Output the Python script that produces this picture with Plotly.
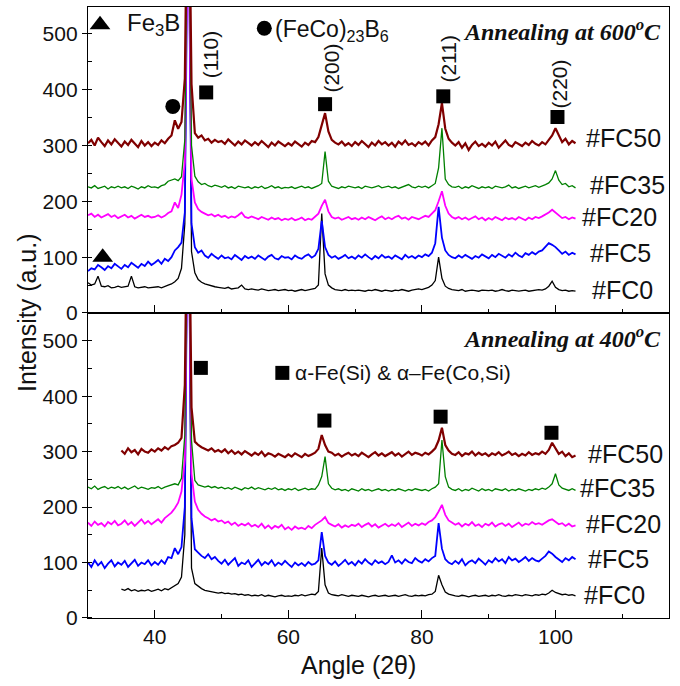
import plotly.graph_objects as go

# 2-theta sampling grid (degrees), 30 .. 103 in 0.5 steps
ANGLE = [30 + 0.5 * i for i in range(147)]

# ---------------- Annealing at 600 C (top panel) ----------------
T600_FC0 = [54, 50, 52, 66, 48, 47, 49, 45, 46, 48,
            46, 47, 48, 66, 47, 45, 46, 47, 45, 46,
            46, 47, 45, 48, 50, 52, 56, 62, 80, 160,
            900, 110, 72, 60, 55, 52, 50, 48, 47, 46,
            45, 44, 46, 43, 44, 45, 50, 43, 42, 43,
            42, 41, 43, 42, 40, 41, 42, 40, 41, 42,
            40, 41, 39, 40, 42, 40, 41, 42, 44, 50,
            178, 70, 50, 45, 42, 41, 40, 42, 40, 41,
            40, 41, 40, 39, 41, 40, 42, 40, 39, 41,
            40, 39, 41, 40, 42, 40, 39, 41, 42, 43,
            42, 44, 46, 50, 58, 100, 62, 48, 44, 42,
            41, 40, 42, 39, 40, 41, 40, 39, 41, 40,
            40, 41, 39, 40, 42, 40, 39, 41, 40, 39,
            40, 41, 39, 40, 41, 42, 41, 43, 48, 57,
            46, 42, 40, 41, 39, 40, 39]
T600_FC5 = [75, 80, 78, 86, 82, 77, 84, 80, 88, 83,
            79, 86, 82, 90, 85, 81, 88, 84, 92, 86,
            90, 95, 88, 97, 93, 100, 112, 118, 126, 180,
            800, 160, 118, 108, 112, 103, 99, 106, 101, 97,
            103, 98, 100, 96, 104, 99, 95, 102, 98, 101,
            97, 103, 99, 95, 101, 104, 98, 96, 102, 99,
            100, 96, 103, 99, 97, 102, 105, 99, 103, 115,
            165, 118, 104, 99, 102, 97, 100, 104, 98, 101,
            97, 103, 99, 105, 100, 96, 102, 98, 104, 99,
            101, 97, 103, 100, 96, 104, 99, 102, 98, 103,
            100, 105, 102, 108, 125, 190, 135, 112, 104, 100,
            98, 103, 99, 104, 100, 97, 102, 99, 105, 101,
            98, 104, 100, 106, 102, 99, 105, 101, 108, 103,
            100, 107, 104, 109, 105, 110, 112, 118, 125, 122,
            118, 112, 106, 110, 104, 108, 105]
T600_FC20 = [175, 178, 172, 176, 171, 174, 177, 172, 175, 170,
             173, 176, 171, 174, 169, 173, 176, 172, 174, 171,
             172, 175, 171, 174, 179, 182, 198, 188, 212, 270,
             760, 240, 198, 186, 181, 178, 175, 177, 173, 176,
             172, 174, 170, 173, 171, 175, 180, 172, 170, 173,
             171, 168, 172, 169, 167, 171, 168, 170, 166, 169,
             167, 170, 166, 168, 171, 166, 169, 167, 172, 178,
             192, 203, 182, 172, 169, 171, 167, 170, 172, 168,
             170, 167, 171, 168, 172, 169, 166, 170, 173, 168,
             171, 168, 172, 174, 169, 171, 167, 172, 170, 168,
             171, 174, 172, 178, 184, 200, 218, 192, 178, 172,
             169, 172, 168, 171, 167, 170, 173, 168, 171, 166,
             170, 167, 172, 169, 166, 171, 168, 170, 167, 172,
             169, 166, 171, 168, 172, 170, 173, 176, 180, 185,
             180, 174, 170, 172, 168, 171, 169]
T600_FC35 = [226, 224, 228, 223, 225, 227, 222, 226, 224, 227,
             224, 226, 223, 227, 225, 222, 226, 224, 228, 225,
             226, 224, 228, 230, 236, 238, 240, 237, 244, 310,
             820, 300, 245, 235, 230, 232, 228, 226, 229, 227,
             225, 228, 224, 226, 223, 227, 225, 224, 226, 223,
             226, 224, 227, 223, 225, 228, 224, 226, 223, 225,
             224, 226, 223, 225, 227, 224, 226, 223, 225, 228,
             232, 289, 236, 227, 225, 223, 226, 224, 227, 225,
             224, 226, 223, 227, 225, 224, 226, 228, 224, 225,
             227, 224, 226, 223, 225, 228, 230, 226, 224, 227,
             225, 227, 224, 228, 232, 260, 331, 240, 230, 226,
             225, 227, 223, 226, 224, 228, 225, 223, 226, 224,
             226, 223, 227, 225, 224, 226, 229, 224, 226, 223,
             225, 227, 224, 226, 228, 225, 227, 230, 233, 240,
             255, 238, 230, 232, 226, 228, 224]
T600_FC50 = [304, 310, 300, 314, 306, 299, 309, 302, 311, 304,
             298, 307, 301, 310, 303, 297, 308, 300, 306, 299,
             305, 301, 309, 304, 312, 318, 345, 330, 342, 420,
             900, 410, 322, 314, 318, 309, 312, 305, 310, 306,
             308, 303, 311, 305, 300, 307, 302, 309, 304, 300,
             306, 301, 308, 302, 297, 305, 300, 307, 303, 299,
             304, 300, 307, 302, 298, 305, 301, 308, 306, 315,
             335, 358, 325, 310, 305, 302, 307, 300, 304, 299,
             306, 301, 308, 303, 297, 305, 300, 308, 302, 306,
             300, 305, 298, 307, 302, 309, 301, 304, 299, 306,
             302, 307, 300, 309, 315, 338, 376, 330, 312, 305,
             300, 306, 296, 304, 292, 301, 307, 299, 303, 298,
             305, 300, 307, 296, 303, 309, 301, 298, 306, 302,
             299, 305, 301, 308, 303, 300, 306, 302, 310, 318,
             331, 318, 306, 312, 302, 308, 304]

# ---------------- Annealing at 400 C (bottom panel) ----------------
N = None
T400_FC0 = [N, N, N, N, N, N, N, N, N, N,
            52, 50, 53, 49, 51, 48, 50, 49, 51, 48,
            50, 52, 49, 53, 51, 55, 58, 62, 74, 150,
            900, 90, 62, 57, 53, 50, 49, 47, 46, 45,
            46, 44, 45, 43, 44, 42, 43, 41, 42, 40,
            41, 40, 42, 39, 41, 40, 38, 40, 41, 39,
            40, 39, 41, 40, 42, 40, 41, 43, 42, 48,
            126, 60, 45, 42, 41, 40, 42, 40, 39, 41,
            40, 39, 41, 40, 38, 40, 41, 39, 40, 41,
            39, 40, 41, 39, 40, 42, 40, 39, 41, 40,
            41, 40, 42, 43, 48, 77, 60, 47, 43, 41,
            40, 39, 41, 40, 38, 40, 41, 39, 40, 41,
            39, 41, 40, 42, 40, 39, 41, 40, 42, 41,
            40, 42, 41, 40, 42, 41, 43, 42, 45, 50,
            46, 44, 42, 43, 41, 42, 40]
T400_FC5 = [100, 92, 104, 95, 101, 90, 98, 104, 93, 100,
            96, 103, 92, 99, 105, 94, 100, 97, 104, 95,
            101, 96, 104, 98, 110, 108, 126, 115, 128, 200,
            850, 180, 124, 118, 112, 108, 115, 106, 110, 103,
            98, 105, 96, 102, 108, 94, 100, 97, 104, 92,
            99, 105, 95, 101, 97, 104, 94, 100, 96, 103,
            97, 92, 100, 95, 99, 94, 101, 96, 98, 104,
            155, 112, 100, 96, 102, 94, 99, 105, 97, 101,
            95, 103, 98, 106, 100, 96, 104, 99, 102, 97,
            101, 113, 100, 104, 98, 106, 101, 99, 108, 103,
            100, 106, 102, 108, 112, 171, 125, 106, 100, 97,
            103, 98, 106, 95, 101, 104, 99, 107, 102, 96,
            104, 100, 108, 102, 106, 99, 110, 104, 107, 101,
            105, 110, 103, 108, 104, 102, 107, 112, 120, 116,
            110, 106, 101, 108, 104, 110, 106]
T400_FC20 = [172, 166, 174, 168, 171, 165, 173, 169, 175, 167,
             170, 176, 168, 173, 166, 172, 178, 170, 175, 169,
             174, 178, 172, 180, 185, 190, 198, 208, 228, 285,
             800, 260, 210, 195, 188, 183, 180, 176, 179, 174,
             176, 171, 174, 168, 172, 166, 170, 167, 171, 165,
             168, 164, 170, 162, 167, 161, 166, 163, 168, 160,
             164, 159, 165, 161, 163, 160, 166, 162, 168, 172,
             176, 182, 171, 168, 165, 169, 163, 167, 164, 168,
             166, 170, 164, 168, 171, 165, 169, 163, 167, 170,
             165, 169, 166, 171, 164, 168, 172, 166, 170, 167,
             171, 168, 173, 176, 182, 192, 204, 186, 176, 172,
             168, 171, 165, 170, 167, 173, 166, 169, 164, 170,
             167, 172, 165, 169, 171, 166, 170, 164, 168, 172,
             166, 170, 168, 173, 169, 171, 168, 172, 176, 178,
             173, 169, 171, 166, 170, 165, 167]
T400_FC35 = [236, 233, 238, 232, 235, 237, 233, 236, 234, 237,
             233, 236, 232, 235, 238, 233, 236, 234, 232, 235,
             234, 237, 233, 236, 238, 240, 242, 240, 252, 330,
             820, 320, 248, 240, 238, 236, 238, 235, 237, 234,
             236, 233, 235, 232, 236, 234, 231, 235, 233, 236,
             232, 235, 233, 231, 234, 232, 235, 231, 233, 230,
             233, 231, 234, 230, 232, 234, 231, 233, 232, 240,
             255, 291, 242, 234, 231, 233, 230, 232, 229, 233,
             231, 229, 233, 230, 232, 229, 231, 233, 230, 232,
             229, 232, 230, 233, 231, 229, 232, 230, 233, 231,
             230, 232, 229, 233, 236, 242, 321, 255, 236, 232,
             230, 233, 229, 232, 230, 234, 231, 229, 233, 230,
             232, 229, 233, 231, 230, 233, 229, 232, 230, 233,
             231, 229, 232, 230, 233, 231, 234, 232, 236, 242,
             260, 240, 234, 232, 230, 233, 230]
T400_FC50 = [N, N, N, N, N, N, N, N, N, N,
             302, 296, 306, 299, 303, 295, 305, 300, 298, 304,
             300, 306, 302, 308, 304, 310, 312, 316, 325, 420,
             900, 380, 318, 312, 308, 305, 302, 306, 300, 303,
             299, 304, 297, 302, 296, 300, 295, 301, 297, 293,
             298, 294, 300, 292, 297, 295, 291, 296, 293, 290,
             295, 291, 297, 293, 290, 296, 292, 295, 298, 305,
             330, 312, 300, 298, 293, 296, 291, 295, 298, 293,
             296, 292, 298, 294, 290, 295, 299, 293, 297, 292,
             295, 299, 293, 297, 291, 296, 300, 294, 298, 296,
             293, 298, 295, 300, 306, 320, 343, 312, 302, 296,
             294, 299, 292, 297, 295, 300, 293, 298, 294, 297,
             292, 297, 294, 299, 293, 296, 300, 294, 297, 292,
             296, 293, 299, 294, 297, 295, 300, 296, 303, 316,
             305, 296, 300, 292, 297, 290, 293]

SAMPLES = ["#FC0", "#FC5", "#FC20", "#FC35", "#FC50"]
COLORS = ["#000000", "#0000ff", "#ff00ff", "#008000", "#800000"]
WIDTHS = [1.3, 1.8, 1.8, 1.3, 2.2]
TOP = [T600_FC0, T600_FC5, T600_FC20, T600_FC35, T600_FC50]
BOTTOM = [T400_FC0, T400_FC5, T400_FC20, T400_FC35, T400_FC50]

# sample label positions (x, y) in data units
TOP_LABEL_X = [105.1, 104.8, 103.6, 104.8, 104.3]
TOP_LABEL_Y = [41, 108, 172, 229, 314]
BOT_LABEL_X = [103.9, 104.6, 104.3, 103.4, 104.5]
BOT_LABEL_Y = [41, 106, 169, 234, 296]

# phase markers
SQ_TOP_X = [47.7, 65.5, 83.2, 100.3]
SQ_TOP_Y = [395, 374, 388, 351]
HKL = ["(110)", "(200)", "(211)", "(220)"]
HKL_X = [48.3, 66.5, 84.0, 100.6]
HKL_Y = [462, 439, 455, 410]
TRI_X = [31.8, 32.2]
TRI_Y = [516, 100]
CIRC_X = [42.7, 56.4]
CIRC_Y = [370, 510]
SQ_BOT_X = [46.9, 59.1, 65.4, 82.8, 99.4]
SQ_BOT_Y = [451, 442, 356, 363, 334]

FONT = "Liberation Sans, Arial, sans-serif"
SERIF = "Liberation Serif, Times New Roman, serif"
TXT = "#111111"

fig = go.Figure()
for ys, c, w in zip(BOTTOM, COLORS, WIDTHS):
    fig.add_trace(go.Scatter(x=ANGLE, y=ys, mode="lines", line=dict(color=c, width=w),
                             xaxis="x", yaxis="y", showlegend=False, hoverinfo="skip"))
for ys, c, w in zip(TOP, COLORS, WIDTHS):
    fig.add_trace(go.Scatter(x=ANGLE, y=ys, mode="lines", line=dict(color=c, width=w),
                             xaxis="x2", yaxis="y2", showlegend=False, hoverinfo="skip"))

# markers
fig.add_trace(go.Scatter(x=SQ_TOP_X, y=SQ_TOP_Y, mode="markers", xaxis="x2", yaxis="y2",
                         marker=dict(symbol="square", size=14, color="black"), showlegend=False))
fig.add_trace(go.Scatter(x=TRI_X, y=TRI_Y, mode="markers", xaxis="x2", yaxis="y2",
                         marker=dict(symbol="triangle-up", size=18, color="black"), showlegend=False))
fig.add_trace(go.Scatter(x=CIRC_X, y=CIRC_Y, mode="markers", xaxis="x2", yaxis="y2",
                         marker=dict(symbol="circle", size=15, color="black"), showlegend=False))
fig.add_trace(go.Scatter(x=SQ_BOT_X, y=SQ_BOT_Y, mode="markers", xaxis="x", yaxis="y",
                         marker=dict(symbol="square", size=14, color="black"), showlegend=False))

ann = []
for name, lx, ly in zip(SAMPLES, TOP_LABEL_X, TOP_LABEL_Y):
    ann.append(dict(x=lx, y=ly, xref="x2", yref="y2", text=name, showarrow=False,
                    xanchor="left", yanchor="middle", font=dict(family=FONT, size=25, color=TXT)))
for name, lx, ly in zip(SAMPLES, BOT_LABEL_X, BOT_LABEL_Y):
    ann.append(dict(x=lx, y=ly, xref="x", yref="y", text=name, showarrow=False,
                    xanchor="left", yanchor="middle", font=dict(family=FONT, size=25, color=TXT)))
for t, hx, hy in zip(HKL, HKL_X, HKL_Y):
    ann.append(dict(x=hx, y=hy, xref="x2", yref="y2", text=t, showarrow=False, textangle=-90,
                    xanchor="center", yanchor="middle", font=dict(family=FONT, size=21, color=TXT)))
ann.append(dict(x=35.6, y=516, xref="x2", yref="y2", text="Fe<sub>3</sub>B", showarrow=False,
                xanchor="left", yanchor="middle", font=dict(family=FONT, size=24, color=TXT)))
ann.append(dict(x=57.7, y=506, xref="x2", yref="y2", text="(FeCo)<sub>23</sub>B<sub>6</sub>",
                showarrow=False, xanchor="left", yanchor="middle",
                font=dict(family=FONT, size=23, color=TXT)))
ann.append(dict(x=60.7, y=442, xref="x", yref="y", text="\u03b1-Fe(Si) &amp; \u03b1\u2013Fe(Co,Si)",
                showarrow=False, xanchor="left", yanchor="middle",
                font=dict(family=FONT, size=21, color=TXT)))
ann.append(dict(x=0.99, y=0.925, xref="x2 domain", yref="y2 domain",
                text="<b><i>Annealing at 600<sup>o</sup>C</i></b>", showarrow=False,
                xanchor="right", yanchor="middle", font=dict(family=SERIF, size=24, color=TXT)))
ann.append(dict(x=0.99, y=0.921, xref="x domain", yref="y domain",
                text="<b><i>Annealing at 400<sup>o</sup>C</i></b>", showarrow=False,
                xanchor="right", yanchor="middle", font=dict(family=SERIF, size=24, color=TXT)))
ann.append(dict(x=-0.106, y=0.5, xref="paper", yref="paper", text="Intensity (a.u.)",
                showarrow=False, textangle=-90, xanchor="center", yanchor="middle",
                font=dict(family=FONT, size=25, color=TXT)))
ann.append(dict(x=0.465, y=-0.077, xref="paper", yref="paper", text="Angle (2\u03b8)",
                showarrow=False, xanchor="center", yanchor="middle",
                font=dict(family=FONT, size=25, color=TXT)))

split = 0.4992
xcommon = dict(range=[30, 117], showline=True, mirror=True, linecolor="black", linewidth=1.3,
               showgrid=False, zeroline=False, ticks="inside", ticklen=8, tickwidth=1.2,
               tickcolor="black", tick0=0, dtick=20,
               minor=dict(ticks="inside", ticklen=4, tickwidth=1.2, tickcolor="black", dtick=10,
                          tick0=0, showgrid=False),
               tickfont=dict(family=FONT, size=21, color=TXT))
ycommon = dict(showline=True, mirror=True, linecolor="black", linewidth=1.3, showgrid=False,
               zeroline=False, ticks="outside", ticklen=5, tickwidth=1.2, tickcolor="black",
               tick0=0, dtick=100,
               minor=dict(ticks="inside", ticklen=4, tickwidth=1.2, tickcolor="black", dtick=50,
                          tick0=0, showgrid=False),
               tickfont=dict(family=FONT, size=21, color=TXT))

fig.update_layout(
    width=680, height=686,
    margin=dict(l=88, r=11, t=7, b=68),
    paper_bgcolor="white", plot_bgcolor="white",
    showlegend=False,
    xaxis=dict(anchor="y", **xcommon),
    xaxis2=dict(anchor="y2", matches="x", showticklabels=False, **xcommon),
    yaxis=dict(domain=[0, split], range=[0, 550], anchor="x", **ycommon),
    yaxis2=dict(domain=[split, 1], range=[0, 548], anchor="x2", **ycommon),
    annotations=ann,
)

fig.write_html("out.html")
